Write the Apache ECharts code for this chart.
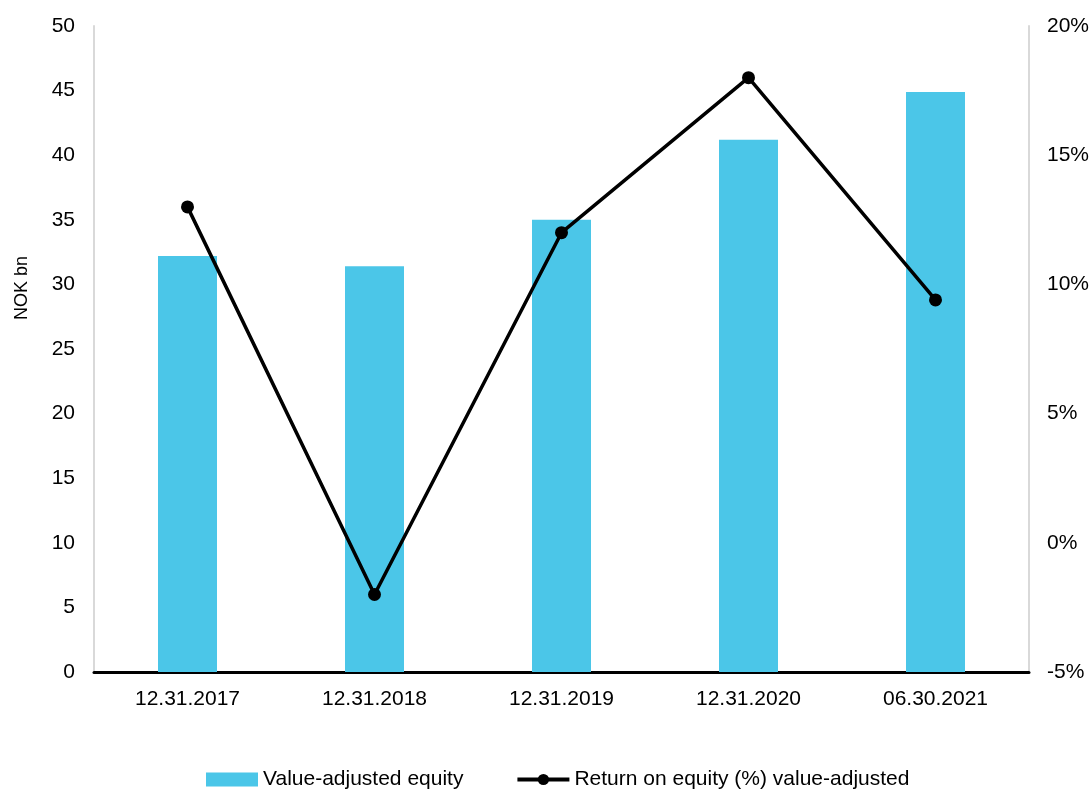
<!DOCTYPE html>
<html>
<head>
<meta charset="utf-8">
<script src="https://cdn.jsdelivr.net/npm/echarts@6/dist/echarts.min.js"></script>
<style>
html,body{margin:0;padding:0;background:#fff;}
#c{width:1090px;height:793px;}
</style>
</head>
<body>
<div id="c"></div>
<script>
const categories = ['12.31.2017', '12.31.2018', '12.31.2019', '12.31.2020', '06.30.2021'];
const equityValues = [32.2, 31.4, 35.0, 41.2, 44.9];
const roeValues = [13.0, -2.0, 12.0, 18.0, 9.4];
const barName = 'Value-adjusted equity';
const lineName = 'Return on equity (%) value-adjusted';
const leftAxisName = 'NOK bn';

const font = 'Liberation Sans, Arial, sans-serif';
const chart = echarts.init(document.getElementById('c'));
chart.setOption({
  animation: false,
  backgroundColor: '#ffffff',
  textStyle: { fontFamily: font },
  grid: { left: 94, right: 61, top: 26, bottom: 121, containLabel: false, outerBoundsMode: 'none' },
  graphic: [{
    type: 'text', x: 22, y: 288, rotation: Math.PI / 2,
    style: { text: leftAxisName, fontSize: 18, fontFamily: font, fill: '#000', align: 'center', verticalAlign: 'middle' }
  }],
  legend: {
    left: 206, top: 769, padding: 0,
    itemWidth: 52, itemHeight: 14, itemGap: 52,
    textStyle: { fontSize: 21, color: '#000', fontFamily: font },
    data: [
      { name: barName, icon: 'rect' },
      { name: lineName, lineStyle: { width: 4 } }
    ]
  },
  xAxis: {
    type: 'category',
    data: categories,
    axisLine: { lineStyle: { color: '#000', width: 3 } },
    axisTick: { show: false },
    axisLabel: { fontSize: 21, color: '#000', margin: 17, fontFamily: font }
  },
  yAxis: [
    {
      type: 'value', min: 0, max: 50, interval: 5,
      axisLine: { show: true, lineStyle: { color: '#D9D9D9', width: 2 } },
      axisTick: { show: false },
      splitLine: { show: false },
      axisLabel: { fontSize: 21, color: '#000', margin: 19, fontFamily: font }
    },
    {
      type: 'value', min: -5, max: 20, interval: 5,
      axisLine: { show: true, lineStyle: { color: '#D9D9D9', width: 2 } },
      axisTick: { show: false },
      splitLine: { show: false },
      axisLabel: { fontSize: 21, color: '#000', margin: 18, formatter: '{value}%', fontFamily: font }
    }
  ],
  series: [
    {
      name: barName, type: 'bar', data: equityValues, yAxisIndex: 0,
      barWidth: 59,
      itemStyle: { color: '#4BC6E8' },
      z: 1
    },
    {
      name: lineName, type: 'line', data: roeValues, yAxisIndex: 1,
      symbol: 'circle', symbolSize: 13,
      lineStyle: { color: '#000', width: 3.5 },
      itemStyle: { color: '#000' },
      z: 3
    }
  ]
});
</script>
</body>
</html>
